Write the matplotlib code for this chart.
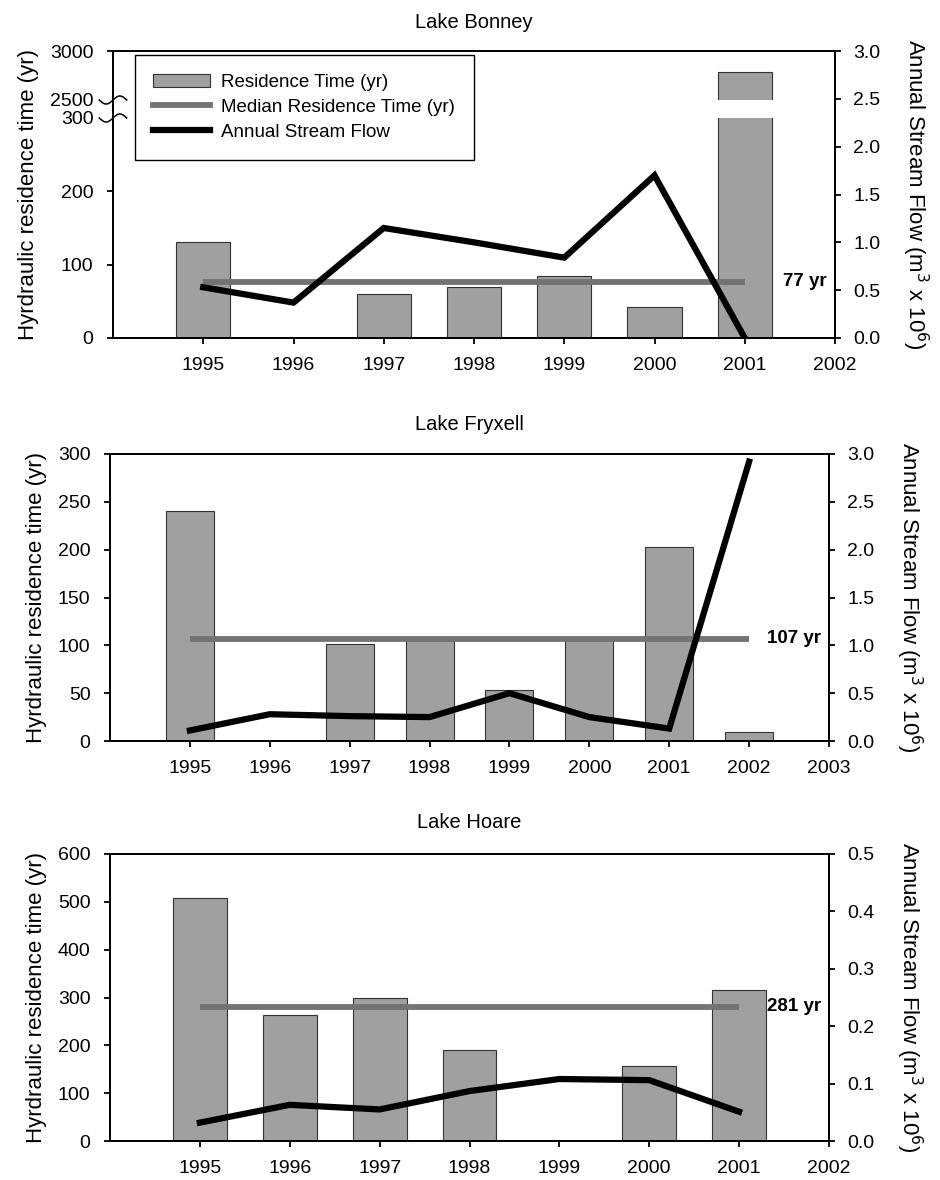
import numpy as np
import matplotlib
matplotlib.use("Agg")
import matplotlib.pyplot as plt
from matplotlib.patches import Patch
from matplotlib.lines import Line2D

plt.rcParams['font.family'] = ['Liberation Sans', 'DejaVu Sans']
plt.rcParams['axes.linewidth'] = 1.3
plt.rcParams['xtick.major.width'] = 1.3
plt.rcParams['ytick.major.width'] = 1.3
plt.rcParams['xtick.major.size'] = 4
plt.rcParams['ytick.major.size'] = 4

# ---- data ----
bonney_bar_years = [1995, 1997, 1998, 1999, 2000, 2001]
bonney_res = [131, 60, 70, 85, 42, 2790]
bonney_flow_years = [1995, 1996, 1997, 1998, 1999, 2000, 2001]
bonney_flow = [0.53, 0.37, 1.15, 1.00, 0.84, 1.70, 0.0]
bonney_median = 77

fryxell_bar_years = [1995, 1997, 1998, 1999, 2000, 2001, 2002]
fryxell_res = [240, 101, 106, 53, 106, 203, 9]
fryxell_flow_years = [1995, 1996, 1997, 1998, 1999, 2000, 2001, 2002]
fryxell_flow = [0.11, 0.28, 0.26, 0.25, 0.50, 0.25, 0.13, 2.92]
fryxell_median = 107

hoare_bar_years = [1995, 1996, 1997, 1998, 2000, 2001]
hoare_res = [509, 263, 300, 190, 156, 316]
hoare_flow_years = [1995, 1996, 1997, 1998, 1999, 2000, 2001]
hoare_flow = [0.032, 0.063, 0.055, 0.087, 0.108, 0.106, 0.051]
hoare_median = 281

BAR = '#a0a0a0'
MED = '#737373'

W, H = 940, 1180
fig = plt.figure(figsize=(W / 100, H / 100), dpi=100)


def rect(l, r, t, b):
    return [l / W, 1 - b / H, (r - l) / W, (b - t) / H]


# broken left axis for Lake Bonney: 0-300 | gap | 2500-3000
brk_in = [0, 300, 2500, 3000]
brk_out = [0, 220, 238, 287]


def fwd(y):
    y = np.asarray(y, dtype=float)
    out = np.interp(y, brk_in, brk_out)
    out = np.where(y < 0, y * 220 / 300, out)
    out = np.where(y > 3000, 287 + (y - 3000) * 49 / 500, out)
    return out


def inv(d):
    d = np.asarray(d, dtype=float)
    out = np.interp(d, brk_out, brk_in)
    out = np.where(d < 0, d * 300 / 220, out)
    out = np.where(d > 287, 3000 + (d - 287) * 500 / 49, out)
    return out


def panel(pos, title, title_y, bar_years, res, flow_years, flow, median,
          med_end, xlim, ylim, yticks, y2lim, y2ticks):
    ax = fig.add_axes(rect(*pos))
    ax.bar(bar_years, res, width=0.6, color=BAR, edgecolor='#333333',
           linewidth=0.8, zorder=2)
    ax.hlines(median, 1995, med_end, color=MED, linewidth=4.2, zorder=3)
    ax.set_xlim(*xlim)
    ax.set_ylim(*ylim)
    ax.set_yticks(yticks)
    ax.set_xticks(range(1995, int(xlim[1]) + 1))
    ax.tick_params(direction='out', labelsize=14)
    ax.tick_params(axis='x', pad=9.5)
    ax.tick_params(axis='y', pad=10)
    ax.set_ylabel('Hyrdraulic residence time (yr)', fontsize=16, labelpad=8)
    ax.annotate('%d yr' % median, xy=(1, median),
                xycoords=('axes fraction', 'data'),
                xytext=(-6, 0), textcoords='offset points',
                ha='right', va='center', fontsize=13.5, fontweight='bold')

    ax2 = ax.twinx()
    ax2.plot(flow_years, flow, color='black', linewidth=4.5,
             solid_joinstyle='miter', zorder=4)
    ax2.set_ylim(*y2lim)
    ax2.set_yticks(y2ticks)
    ax2.set_yticklabels(['%.1f' % v for v in y2ticks])
    ax2.tick_params(direction='out', labelsize=14, pad=9)
    ax2.set_ylabel('Annual Stream Flow (m$^3$ x 10$^6$)', fontsize=16,
                   rotation=270, labelpad=36)

    cx = (pos[0] + pos[1]) / 2
    fig.text(cx / W, 1 - title_y / H, title, ha='center', va='center',
             fontsize=14.5)
    return ax, ax2


# ---- Lake Bonney ----
ax, ax2 = panel((113, 835, 51, 338), 'Lake Bonney', 22,
                bonney_bar_years, bonney_res, bonney_flow_years, bonney_flow,
                bonney_median, 2001, (1994, 2002), (0, 3000),
                [0, 100, 200, 300, 2500, 3000], (0, 3.0),
                [0, 0.5, 1.0, 1.5, 2.0, 2.5, 3.0])
ax.set_yscale('function', functions=(fwd, inv))
ax.set_ylim(0, 3000)
ax.set_yticks([0, 100, 200, 300, 2500, 3000])
ax.set_yticklabels(['0', '100', '200', '300', '2500', '3000'])
for t in ax.yaxis.get_major_ticks()[3:5]:
    t.tick1line.set_visible(False)
# white gap through the tall bar
ax.bar(2001, 2500 - 320, bottom=320, width=0.68, color='white',
       linewidth=0, zorder=2.5)
# break marks on the left spine
tt = np.linspace(-1, 1, 40)
for yb in (2500, 300):
    fy = float(fwd(yb)) / 287
    ax.plot(tt * 0.019, fy + 0.014 * np.sin(np.pi * tt), color='black',
            linewidth=1.1, transform=ax.transAxes, clip_on=False, zorder=6)

handles = [Patch(facecolor=BAR, edgecolor='#333333', linewidth=0.8),
           Line2D([], [], color=MED, linewidth=4.2),
           Line2D([], [], color='black', linewidth=4.5)]
labels = ['Residence Time (yr)', 'Median Residence Time (yr)',
          'Annual Stream Flow']
leg = ax2.legend(handles, labels, loc='upper left',
                 bbox_to_anchor=(0.030, 0.986), borderaxespad=0,
                 fontsize=13.5, fancybox=False, framealpha=1,
                 edgecolor='black', handlelength=3.0, handletextpad=0.6,
                 labelspacing=0.42, borderpad=1.0)
leg.get_frame().set_linewidth(1.0)

# ---- Lake Fryxell ----
panel((110, 829, 454, 741), 'Lake Fryxell', 424,
      fryxell_bar_years, fryxell_res, fryxell_flow_years, fryxell_flow,
      fryxell_median, 2002, (1994, 2003), (0, 300),
      [0, 50, 100, 150, 200, 250, 300], (0, 3.0),
      [0, 0.5, 1.0, 1.5, 2.0, 2.5, 3.0])

# ---- Lake Hoare ----
panel((110, 829, 854, 1141), 'Lake Hoare', 823,
      hoare_bar_years, hoare_res, hoare_flow_years, hoare_flow,
      hoare_median, 2001, (1994, 2002), (0, 600),
      [0, 100, 200, 300, 400, 500, 600], (0, 0.5),
      [0, 0.1, 0.2, 0.3, 0.4, 0.5])

fig.savefig('out.png', dpi=100)
